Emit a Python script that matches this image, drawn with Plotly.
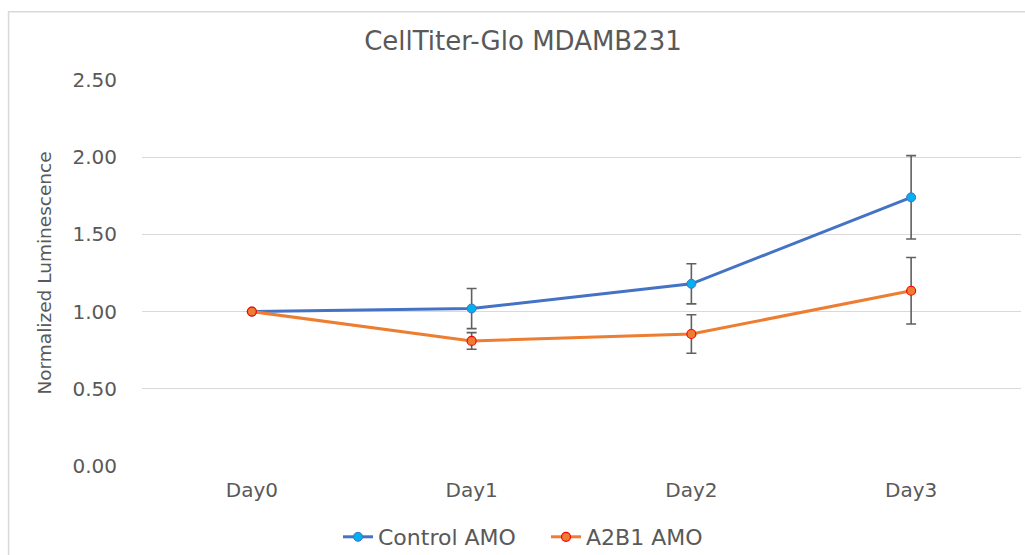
import plotly.graph_objects as go

days = ["Day0", "Day1", "Day2", "Day3"]
control = [1.00, 1.02, 1.18, 1.74]
control_err = [0.0, 0.13, 0.13, 0.27]
a2b1 = [1.00, 0.81, 0.855, 1.135]
a2b1_err = [0.0, 0.054, 0.125, 0.215]

FONT = "DejaVu Sans"
GREY = "#595959"
W, H = 1025, 555

fig = go.Figure()
fig.add_trace(go.Scatter(
    x=days, y=control, name="Control AMO", mode="lines+markers",
    line=dict(color="#4472C4", width=3),
    marker=dict(size=9, color="#00B0F0", line=dict(color="#4472C4", width=1)),
    error_y=dict(type="data", array=control_err, visible=True, color="#606060", thickness=1.6, width=5),
))
fig.add_trace(go.Scatter(
    x=days, y=a2b1, name="A2B1 AMO", mode="lines+markers",
    line=dict(color="#ED7D31", width=3),
    marker=dict(size=9, color="#ED7D31", line=dict(color="#FF0000", width=1.2)),
    error_y=dict(type="data", array=a2b1_err, visible=True, color="#606060", thickness=1.6, width=5),
))

fig.update_layout(
    width=W, height=H,
    margin=dict(l=142, r=4, t=80, b=89, autoexpand=False),
    paper_bgcolor="white", plot_bgcolor="white",
    font=dict(family=FONT, color=GREY),
    title=dict(text="CellTiter-Glo MDAMB231", x=523/W, xanchor="center",
               y=1 - 41/H, yanchor="middle", font=dict(size=26, color=GREY, family=FONT),
               automargin=False),
    showlegend=True,
    legend=dict(orientation="h", xref="container", yref="container",
                x=338/W, xanchor="left", y=1 - 537/H, yanchor="middle",
                font=dict(size=22, color=GREY, family=FONT), bgcolor="rgba(0,0,0,0)",
                itemwidth=30, entrywidth=163, entrywidthmode="pixels"),
    shapes=[dict(type="rect", xref="paper", yref="paper", x0=-0.1518, x1=1.2, y0=-0.5, y1=1.177,
                 line=dict(color="#d9d9d9", width=1.5), fillcolor="rgba(0,0,0,0)", layer="below")],
)
fig.update_xaxes(
    type="category", range=[-0.5, 3.5], showgrid=False, showline=False, zeroline=False,
    tickfont=dict(size=20, color=GREY, family=FONT), ticks="", ticklabelstandoff=10,
    automargin=False,
)
fig.update_yaxes(
    range=[0, 2.5], tickvals=[0, 0.5, 1.0, 1.5, 2.0, 2.5], tickformat=".2f",
    showgrid=True, gridcolor="#d9d9d9", gridwidth=1, zeroline=False, showline=False,
    tickfont=dict(size=20, color=GREY, family=FONT), ticks="", ticklabelstandoff=24,
    title=dict(text="Normalized Luminescence", font=dict(size=18.5, color=GREY, family=FONT), standoff=15),
    automargin=False,
)

fig.write_html(
    "out.html",
    config={"displayModeBar": False},
    post_script="document.body.style.margin='0';document.body.style.overflow='hidden';",
)
